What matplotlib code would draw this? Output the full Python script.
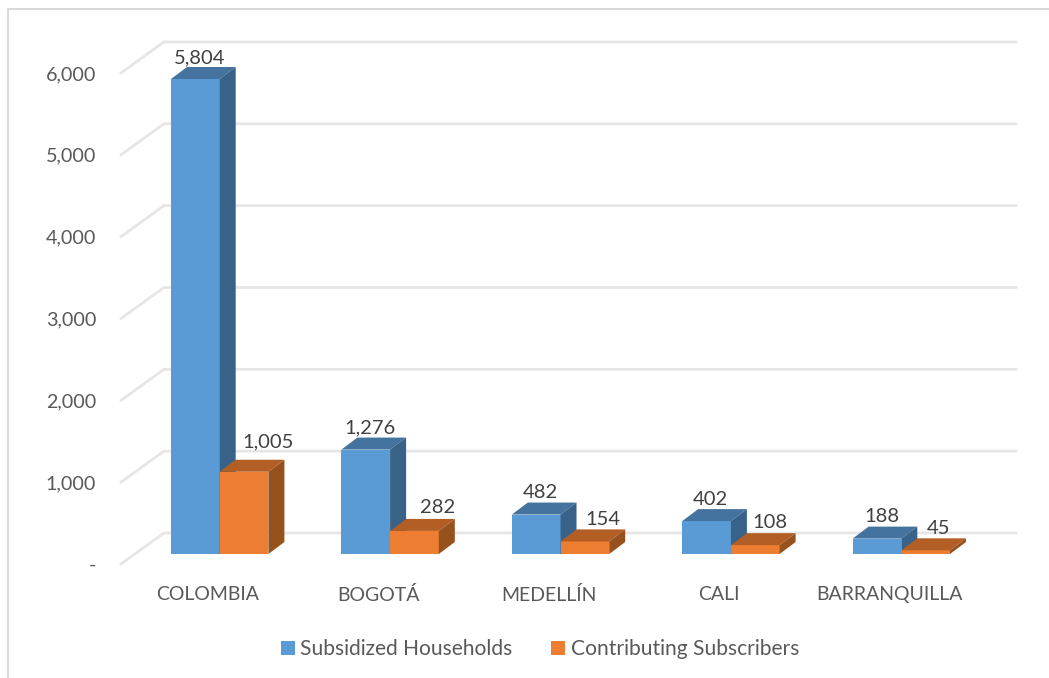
# 3D-look clustered columns, drawn as polygons on normal axes
import matplotlib
matplotlib.use('Agg')
import matplotlib.pyplot as plt
from matplotlib.patches import Polygon, Patch

plt.rcParams['font.family'] = ['Lato', 'DejaVu Sans']

cities = ['COLOMBIA', 'BOGOTÁ', 'MEDELLÍN', 'CALI', 'BARRANQUILLA']
subsidized = [5804, 1276, 482, 402, 188]
contributing = [1005, 282, 154, 108, 45]
y_ticks = [0, 1000, 2000, 3000, 4000, 5000, 6000]
y_labels = ['-', '1,000', '2,000', '3,000', '4,000', '5,000', '6,000']

W, H = 1049, 678
px_x = 170.4        # pixels per category
px_y = 475 / 5804   # pixels per unit
center0 = 219.7     # pixel of the first category

fig = plt.figure(figsize=(W / 100, H / 100), dpi=100)

# pixel box of the plot: left/right 121..1016, bottom/top 564..42
ax = fig.add_axes([121 / W, 1 - 564 / H, (1016 - 121) / W, (564 - 42) / H])
ax.set_xlim((121 - center0) / px_x, (1016 - center0) / px_x)
ax.set_ylim(-10 / px_y, 512 / px_y)
for s in ax.spines.values():
    s.set_visible(False)

# outer chart border, only left and top show
fig.add_artist(plt.Line2D([8 / W, 8 / W, 1], [0, 1 - 9 / H, 1 - 9 / H],
                          color='#d9d9d9', lw=1.5))

# gridlines: slanted floor piece, then along the back wall
floor_x = 43 / px_x
floor_y = 31 / px_y
x0 = ax.get_xlim()[0]
x1 = ax.get_xlim()[1]
drop = 10 / px_y
for v in y_ticks:
    ax.plot([x0, x0 + floor_x, x1], [v - drop, v - drop + floor_y, v - drop + floor_y],
            color='#e6e6e6', lw=2, zorder=1, solid_joinstyle='miter', clip_on=False)

bar_w = 48.7 / px_x
dep_x = 16 / px_x
dep_y = 12 / px_y


def bar3d(left, val, front, top, side):
    right = left + bar_w
    ax.add_patch(Polygon([(left, 0), (right, 0), (right, val), (left, val)],
                         fc=front, ec='none', zorder=3))
    ax.add_patch(Polygon([(left, val), (right, val), (right + dep_x, val + dep_y), (left + dep_x, val + dep_y)],
                         fc=top, ec='none', zorder=3))
    ax.add_patch(Polygon([(right, 0), (right + dep_x, dep_y), (right + dep_x, val + dep_y), (right, val)],
                         fc=side, ec='none', zorder=3))


# offsets of the value labels, in pixels from the top of the front face
sub_off = [(4, 22), (4, 23), (4, 23), (4, 23), (5, 23)]
con_off = [(24, 31), (23, 24), (18, 23), (15, 24), (13, 23)]

for i in range(len(cities)):
    bar3d(i - bar_w, subsidized[i], '#5b9bd5', '#44739f', '#386288')
    bar3d(i, contributing[i], '#ed7d31', '#b35e24', '#97511d')
    ax.annotate(f'{subsidized[i]:,}', (i - bar_w / 2, subsidized[i]),
                xytext=(sub_off[i][0] * 0.72, sub_off[i][1] * 0.72 - 0.7), textcoords='offset points',
                ha='center', va='center', fontsize=14.5, color='#404040', zorder=5)
    ax.annotate(f'{contributing[i]:,}', (i + bar_w / 2, contributing[i]),
                xytext=(con_off[i][0] * 0.72, con_off[i][1] * 0.72 - 0.7), textcoords='offset points',
                ha='center', va='center', fontsize=14.5, color='#404040', zorder=5)

ax.set_yticks([v - drop for v in y_ticks])
ax.set_yticklabels(y_labels)
ax.set_xticks([i - 12 / px_x for i in range(len(cities))])
ax.set_xticklabels(cities)
ax.tick_params(axis='y', length=0, pad=18, labelsize=14.2, labelcolor='#595959')
ax.tick_params(axis='x', length=0, pad=15.5, labelsize=14, labelcolor='#595959')

handles = [Patch(fc='#5b9bd5', label='Subsidized Households'),
           Patch(fc='#ed7d31', label='Contributing Subscribers')]
fig.legend(handles=handles, loc='center', bbox_to_anchor=(540 / W, 1 - 649 / H), ncol=2,
           frameon=False, fontsize=15.1, labelcolor='#595959', handlelength=0.67, handleheight=0.67,
           handletextpad=0.24, columnspacing=1.86, borderpad=0)

fig.savefig('out.png', dpi=100)
